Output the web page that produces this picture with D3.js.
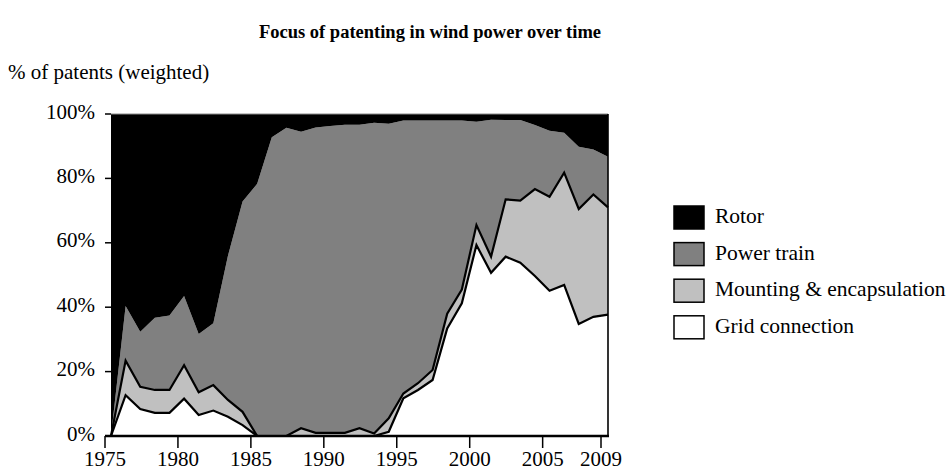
<!DOCTYPE html>
<html>
<head>
<meta charset="utf-8">
<script src="https://cdn.jsdelivr.net/npm/d3@7"></script>
<style>
  body { margin: 0; background: #fff; }
  svg text { font-family: "Liberation Serif", "Times New Roman", serif; fill: #000; }
</style>
</head>
<body>
<div id="chart"></div>
<script>
// years 1975..2009
const years = d3.range(1975, 2010);

// share of patents per component, %
const grid = [0, 12.7, 8.4, 7.2, 7.2, 11.6, 6.5, 7.9, 6.0, 3.4,
  0, 0, 0, 0, 0, 0, 0, 0, 0, 1.3,
  11.7, 14.3, 17.4, 33.4, 41.2, 59.3, 50.7, 55.7, 53.8, 49.7,
  45.1, 46.9, 34.8, 37.0, 37.7];
const mounting = [0, 10.7, 6.9, 7.1, 7.1, 10.4, 7.1, 7.9, 5.2, 4.1,
  0, 0, 0, 2.4, 1.0, 1.0, 1.0, 2.4, 0.8, 4.2,
  1.5, 2.1, 3.1, 4.6, 4.3, 6.2, 5.0, 17.8, 19.3, 27.0,
  29.2, 34.9, 35.7, 38.0, 33.3];
const powerTrain = [0, 17.0, 17.1, 22.4, 23.1, 21.5, 18.1, 19.2, 44.8, 65.3,
  78.3, 92.8, 95.7, 92.1, 94.8, 95.3, 95.7, 94.3, 96.5, 91.5,
  84.8, 81.6, 77.5, 60.0, 52.5, 32.1, 42.5, 24.6, 25.0, 19.9,
  20.5, 12.4, 19.3, 14.0, 15.7];
const rotor = [100, 59.6, 67.6, 63.3, 62.6, 56.5, 68.3, 65.0, 44.0, 27.2,
  21.7, 7.2, 4.3, 5.5, 4.2, 3.7, 3.3, 3.3, 2.7, 3.0,
  2.0, 2.0, 2.0, 2.0, 2.0, 2.4, 1.8, 1.9, 1.9, 3.4,
  5.2, 5.8, 10.2, 11.0, 13.3];

const seriesKeys = ['grid', 'mounting', 'power', 'rotor'];
const seriesNames = { rotor: 'Rotor', power: 'Power train', mounting: 'Mounting & encapsulation', grid: 'Grid connection' };
const seriesColors = { rotor: '#000000', power: '#808080', mounting: '#c0c0c0', grid: '#ffffff' };
const xTicks = [1975, 1980, 1985, 1990, 1995, 2000, 2005, 2009];
const yTicks = [0, 20, 40, 60, 80, 100];

const rows = years.map((yr, i) => ({
  year: yr, grid: grid[i], mounting: mounting[i], power: powerTrain[i], rotor: rotor[i]
}));

const width = 951, height = 474;

const svg = d3.select('#chart').append('svg')
  .attr('width', width)
  .attr('height', height);

const x = d3.scaleLinear().domain([1975, 2009]).range([111, 608]);
const xTick = d3.scaleLinear().domain([1975, 2009]).range([105, 601]); // tick marks sit a bit left of the data
const y = d3.scaleLinear().domain([0, 100]).range([436, 114]);

const stacked = d3.stack().keys(seriesKeys)(rows);

const area = d3.area()
  .x(d => x(d.data.year))
  .y0(d => y(d[0]))
  .y1(d => y(d[1]));

const line = d3.line()
  .x(d => x(d.data.year))
  .y(d => y(d[1]));

svg.append('g').selectAll('path')
  .data(stacked)
  .join('path')
  .attr('fill', d => seriesColors[d.key])
  .attr('d', area);

// black outline on top of grid & mounting layers
svg.append('g').selectAll('path')
  .data(stacked.filter(s => s.key === 'grid' || s.key === 'mounting'))
  .join('path')
  .attr('fill', 'none')
  .attr('stroke', '#000')
  .attr('stroke-width', 2.2)
  .attr('stroke-linejoin', 'miter')
  .attr('d', line);

// frame
svg.append('line')
  .attr('x1', x(1975)).attr('x2', x(2009))
  .attr('y1', y(100)).attr('y2', y(100))
  .attr('stroke', '#8a8a8a').attr('stroke-width', 1);
svg.append('line')
  .attr('x1', x(2009)).attr('x2', x(2009))
  .attr('y1', y(100)).attr('y2', y(0))
  .attr('stroke', '#000').attr('stroke-width', 1.6);
svg.append('line')
  .attr('x1', xTick(1975)).attr('x2', x(2009) + 1)
  .attr('y1', y(0)).attr('y2', y(0))
  .attr('stroke', '#000').attr('stroke-width', 2.4);

// y axis
const yAx = svg.append('g');
yAx.selectAll('line')
  .data(yTicks)
  .join('line')
  .attr('x1', 105).attr('x2', x(1975))
  .attr('y1', d => y(d)).attr('y2', d => y(d))
  .attr('stroke', '#000').attr('stroke-width', 1.5);
yAx.selectAll('text')
  .data(yTicks)
  .join('text')
  .attr('x', 95)
  .attr('y', d => y(d) + 4.5)
  .attr('text-anchor', 'end')
  .style('font-size', '21px')
  .text(d => d + '%');

// x axis
const xAx = svg.append('g');
xAx.selectAll('line')
  .data(xTicks)
  .join('line')
  .attr('x1', d => xTick(d)).attr('x2', d => xTick(d))
  .attr('y1', y(0)).attr('y2', y(0) + 12)
  .attr('stroke', '#000').attr('stroke-width', 1.5);
xAx.selectAll('text')
  .data(xTicks)
  .join('text')
  .attr('x', d => xTick(d))
  .attr('y', 466)
  .attr('text-anchor', 'middle')
  .style('font-size', '21px')
  .text(d => d);

// titles
svg.append('text')
  .attr('x', 430).attr('y', 38)
  .attr('text-anchor', 'middle')
  .style('font-size', '18.5px')
  .style('font-weight', 'bold')
  .text('Focus of patenting in wind power over time');

svg.append('text')
  .attr('x', 8).attr('y', 79)
  .style('font-size', '21px')
  .text('% of patents (weighted)');

// legend, rotor first
const legend = svg.append('g').attr('transform', 'translate(674,206)');
const item = legend.selectAll('g')
  .data(seriesKeys.slice().reverse())
  .join('g')
  .attr('transform', (d, i) => `translate(0,${i * 36.6})`);
item.append('rect')
  .attr('width', 30).attr('height', 23)
  .attr('fill', d => seriesColors[d])
  .attr('stroke', '#000').attr('stroke-width', 1.5);
item.append('text')
  .attr('x', 41).attr('y', 17)
  .style('font-size', '21.5px')
  .text(d => seriesNames[d]);
</script>
</body>
</html>
